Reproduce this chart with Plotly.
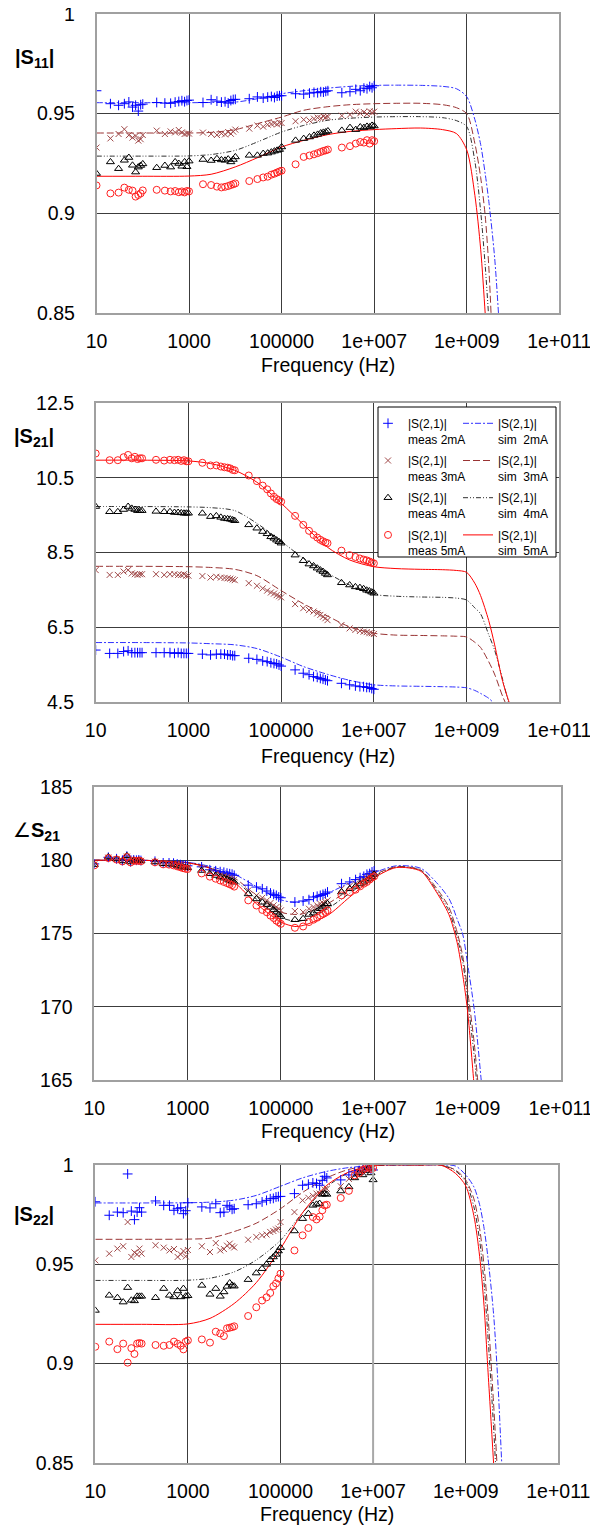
import plotly.graph_objects as go

# The page body has an 8px margin: the figure is sized so that it fills the
# 598x1528 window, and pixel positions below are given in window coordinates.
OFF = 8
W, H = 598 - OFF, 1528 - OFF
FONT = "Liberation Sans, Arial, sans-serif"

# ---------------- measured frequency sweep (Hz) ----------------
FREQ_MEAS = [10, 20, 30, 40, 50, 60, 70, 80, 90,
             100, 200, 300, 400, 500, 600, 700, 800, 900,
             1e3, 2e3, 3e3, 4e3, 5e3, 6e3, 7e3, 8e3, 9e3,
             1e4, 2e4, 3e4, 4e4, 5e4, 6e4, 7e4, 8e4, 9e4,
             1e5, 2e5, 3e5, 4e5, 5e5, 6e5, 7e5, 8e5, 9e5,
             1e6, 2e6, 3e6, 4e6, 5e6, 6e6, 7e6, 8e6, 9e6,
             1e7]

# ---------------- |S11| ----------------
S11_MEAS_2MA = [0.9615, 0.9550, 0.9542, 0.9550, 0.9559, 0.9533, 0.9542, 0.9513, 0.9545,
                0.9548, 0.9556, 0.9553, 0.9552, 0.9558, 0.9561, 0.9565, 0.9560, 0.9566,
                0.9568, 0.9556, 0.9570, 0.9563, 0.9558, 0.9560, 0.9553, 0.9566, 0.9571,
                0.9572, 0.9575, 0.9584, 0.9578, 0.9583, 0.9586, 0.9581, 0.9588, 0.9590,
                0.9590, 0.9600, 0.9598, 0.9603, 0.9607, 0.9605, 0.9610, 0.9608, 0.9612,
                0.9615, 0.9605, 0.9610, 0.9622, 0.9615, 0.9628, 0.9625, 0.9636, 0.9630,
                0.9640]
S11_MEAS_3MA = [0.9330, 0.9376, 0.9398, 0.9422, 0.9392, 0.9380, 0.9388, 0.9365, 0.9372,
                0.9393, 0.9415, 0.9398, 0.9411, 0.9406, 0.9418, 0.9406, 0.9398, 0.9401,
                0.9400, 0.9405, 0.9398, 0.9393, 0.9401, 0.9396, 0.9408, 0.9399, 0.9410,
                0.9420, 0.9425, 0.9440, 0.9435, 0.9445, 0.9448, 0.9452, 0.9446, 0.9455,
                0.9453, 0.9462, 0.9470, 0.9466, 0.9475, 0.9480, 0.9477, 0.9486, 0.9482,
                0.9485, 0.9490, 0.9495, 0.9510, 0.9502, 0.9508, 0.9498, 0.9512, 0.9505,
                0.9510]
S11_MEAS_4MA = [0.9200, 0.9258, 0.9224, 0.9266, 0.9280, 0.9241, 0.9207, 0.9232, 0.9240,
                0.9248, 0.9229, 0.9240, 0.9232, 0.9258, 0.9250, 0.9236, 0.9258, 0.9234,
                0.9262, 0.9270, 0.9265, 0.9274, 0.9268, 0.9266, 0.9272, 0.9258, 0.9270,
                0.9283, 0.9291, 0.9291, 0.9300, 0.9302, 0.9307, 0.9312, 0.9316, 0.9320,
                0.9333, 0.9366, 0.9375, 0.9383, 0.9391, 0.9396, 0.9403, 0.9406, 0.9408,
                0.9413, 0.9416, 0.9430, 0.9420, 0.9433, 0.9430, 0.9436, 0.9433, 0.9441,
                0.9438]
S11_MEAS_5MA = [0.9140, 0.9100, 0.9104, 0.9129, 0.9118, 0.9114, 0.9084, 0.9092, 0.9100,
                0.9115, 0.9118, 0.9114, 0.9110, 0.9112, 0.9106, 0.9110, 0.9105, 0.9112,
                0.9110, 0.9146, 0.9142, 0.9134, 0.9130, 0.9133, 0.9137, 0.9142, 0.9146,
                0.9150, 0.9162, 0.9172, 0.9180, 0.9184, 0.9194, 0.9199, 0.9205, 0.9210,
                0.9214, 0.9246, 0.9283, 0.9290, 0.9296, 0.9302, 0.9308, 0.9313, 0.9316,
                0.9320, 0.9330, 0.9337, 0.9350, 0.9358, 0.9355, 0.9367, 0.9350, 0.9367,
                0.9362]

S11_SIM_F = [10, 100, 1e3, 3e3, 1e4, 3e4, 1e5, 3e5, 1e6, 3e6, 1e7, 3e7, 1e8, 3e8,
             6e8, 1e9, 1.5e9, 2e9, 2.5e9, 3e9, 4e9, 5e9]
S11_SIM_2MA = [0.9555, 0.9555, 0.9555, 0.9556, 0.9558, 0.9575, 0.9600, 0.9615, 0.9628, 0.9637,
               0.9642, 0.9643, 0.9642, 0.9637, 0.9625, 0.9585, 0.9470, 0.9345, 0.9200, 0.9060,
               0.8780, 0.8450]
S11_SIM_3MA = [0.9403, 0.9403, 0.9403, 0.9406, 0.9420, 0.9450, 0.9483, 0.9517, 0.9535, 0.9545,
               0.9550, 0.9552, 0.9552, 0.9545, 0.9530, 0.9500, 0.9350, 0.9180, 0.8990, 0.8730,
               0.8100, 0.7700]
S11_SIM_4MA = [0.9287, 0.9287, 0.9288, 0.9295, 0.9316, 0.9358, 0.9408, 0.9441, 0.9467, 0.9477,
               0.9483, 0.9485, 0.9485, 0.9480, 0.9465, 0.9435, 0.9260, 0.9010, 0.8740, 0.8470,
               0.8000, 0.7600]
S11_SIM_5MA = [0.9186, 0.9186, 0.9187, 0.9196, 0.9233, 0.9279, 0.9333, 0.9366, 0.9395, 0.9411,
               0.9420, 0.9425, 0.9428, 0.9420, 0.9400, 0.9318, 0.9090, 0.8820, 0.8500, 0.8200,
               0.7600, 0.7200]

# ---------------- |S21| ----------------
S21_MEAS_2MA = [5.89, 5.80, 5.80, 5.85, 5.87, 5.82, 5.82, 5.82, 5.82,
                5.82, 5.82, 5.82, 5.82, 5.80, 5.82, 5.80, 5.80, 5.80,
                5.80, 5.78, 5.76, 5.78, 5.78, 5.78, 5.76, 5.76, 5.74,
                5.74, 5.67, 5.64, 5.60, 5.58, 5.55, 5.53, 5.52, 5.49,
                5.46, 5.36, 5.27, 5.23, 5.18, 5.16, 5.13, 5.11, 5.09,
                5.07, 5.00, 4.96, 4.93, 4.91, 4.91, 4.89, 4.89, 4.86,
                4.84]
S21_MEAS_3MA = [8.03, 7.90, 7.90, 7.99, 8.03, 7.94, 7.92, 7.90, 7.92,
                7.92, 7.92, 7.90, 7.92, 7.92, 7.90, 7.90, 7.92, 7.88,
                7.88, 7.87, 7.83, 7.85, 7.83, 7.82, 7.81, 7.80, 7.78,
                7.76, 7.68, 7.61, 7.54, 7.48, 7.43, 7.40, 7.36, 7.33,
                7.30, 7.12, 7.01, 6.96, 6.92, 6.87, 6.83, 6.78, 6.74,
                6.69, 6.56, 6.47, 6.43, 6.40, 6.38, 6.37, 6.34, 6.34,
                6.32]
S21_MEAS_4MA = [9.73, 9.59, 9.59, 9.65, 9.73, 9.68, 9.65, 9.62, 9.62,
                9.62, 9.60, 9.59, 9.59, 9.57, 9.57, 9.56, 9.55, 9.55,
                9.55, 9.55, 9.46, 9.48, 9.44, 9.41, 9.40, 9.39, 9.37,
                9.35, 9.24, 9.15, 9.06, 9.00, 8.92, 8.88, 8.83, 8.79,
                8.75, 8.43, 8.28, 8.19, 8.14, 8.08, 8.03, 7.99, 7.94,
                7.90, 7.69, 7.63, 7.58, 7.56, 7.53, 7.49, 7.47, 7.44,
                7.41]
S21_MEAS_5MA = [11.15, 10.97, 10.97, 11.05, 11.11, 11.02, 11.06, 11.00, 11.02,
                11.02, 10.98, 10.96, 10.98, 10.97, 10.98, 10.95, 10.97, 10.94,
                10.94, 10.90, 10.83, 10.83, 10.80, 10.78, 10.77, 10.75, 10.71,
                10.70, 10.56, 10.41, 10.29, 10.19, 10.08, 9.99, 9.93, 9.90,
                9.86, 9.48, 9.24, 9.08, 8.97, 8.90, 8.84, 8.80, 8.77,
                8.75, 8.55, 8.43, 8.38, 8.34, 8.31, 8.29, 8.26, 8.23,
                8.21]

S21_SIM_F = [10, 100, 1e3, 3e3, 1e4, 3e4, 1e5, 3e5, 1e6, 3e6, 1e7, 3e7, 1e8, 3e8,
             6e8, 1e9, 1.5e9, 2e9, 3e9, 4e9, 6e9, 8e9, 1e10]
S21_SIM_2MA = [6.09, 6.09, 6.08, 6.06, 6.03, 5.93, 5.70, 5.45, 5.24, 5.08, 4.96, 4.93, 4.92,
               4.91, 4.90, 4.88, 4.81, 4.73, 4.60, 4.45, 4.20, 4.00, 3.85]
S21_SIM_3MA = [8.13, 8.13, 8.12, 8.10, 8.05, 7.88, 7.48, 7.13, 6.80, 6.51, 6.34, 6.29, 6.28,
               6.27, 6.26, 6.24, 6.10, 5.96, 5.58, 5.25, 4.65, 4.30, 4.05]
S21_SIM_4MA = [9.73, 9.73, 9.72, 9.70, 9.62, 9.28, 8.80, 8.35, 7.95, 7.63, 7.38, 7.33, 7.31,
               7.30, 7.28, 7.23, 7.02, 6.86, 6.30, 5.90, 5.10, 4.50, 4.15]
S21_SIM_5MA = [10.97, 10.97, 10.95, 10.88, 10.70, 10.38, 9.82, 9.25, 8.64, 8.30, 8.12, 8.07,
               8.05, 8.04, 8.02, 7.97, 7.68, 7.35, 6.68, 6.05, 5.05, 4.55, 4.20]

# ---------------- angle S21 (deg) ----------------
A21_MEAS_2MA = [179.75, 180.20, 180.10, 179.98, 180.28, 179.90, 180.02, 180.00, 180.02,
                179.98, 179.93, 179.82, 179.82, 179.80, 179.74, 179.70, 179.66, 179.65,
                179.62, 179.55, 179.35, 179.28, 179.22, 179.18, 179.12, 179.08, 179.05,
                178.97, 178.30, 178.17, 178.05, 177.90, 177.76, 177.67, 177.60, 177.49,
                177.44, 177.15, 177.22, 177.31, 177.49, 177.54, 177.60, 177.67, 177.72,
                177.83, 178.40, 178.52, 178.68, 178.81, 178.90, 179.04, 179.09, 179.20,
                179.27]
A21_MEAS_3MA = [179.72, 180.18, 180.08, 179.96, 180.25, 179.90, 180.00, 179.97, 180.00,
                179.96, 179.90, 179.78, 179.76, 179.73, 179.68, 179.62, 179.58, 179.55,
                179.52, 179.40, 179.20, 179.08, 178.98, 178.92, 178.86, 178.80, 178.74,
                178.68, 177.94, 177.60, 177.44, 177.26, 177.08, 176.92, 176.80, 176.69,
                176.58, 176.53, 176.46, 176.69, 176.81, 176.92, 177.03, 177.08, 177.15,
                177.26, 178.06, 178.25, 178.40, 178.55, 178.66, 178.78, 178.88, 178.98,
                179.13]
A21_MEAS_4MA = [179.70, 180.22, 180.08, 179.95, 180.30, 179.88, 180.00, 179.98, 180.00,
                179.95, 179.88, 179.76, 179.74, 179.70, 179.64, 179.58, 179.53, 179.50,
                179.48, 179.30, 179.08, 178.96, 178.86, 178.78, 178.70, 178.62, 178.56,
                178.50, 177.70, 177.36, 177.13, 176.97, 176.79, 176.61, 176.45, 176.29,
                176.16, 175.94, 176.01, 176.30, 176.39, 176.53, 176.69, 176.80, 176.92,
                177.03, 177.83, 178.05, 178.22, 178.38, 178.50, 178.63, 178.75, 178.86,
                179.04]
A21_MEAS_5MA = [179.65, 180.15, 180.05, 179.92, 180.22, 179.85, 179.98, 179.95, 179.98,
                179.93, 179.86, 179.72, 179.70, 179.65, 179.58, 179.52, 179.46, 179.42,
                179.40, 179.10, 178.88, 178.74, 178.62, 178.52, 178.44, 178.36, 178.30,
                178.20, 177.26, 176.91, 176.61, 176.45, 176.22, 176.06, 175.88, 175.77,
                175.66, 175.39, 175.48, 175.78, 175.94, 176.08, 176.24, 176.35, 176.47,
                176.58, 177.60, 177.83, 177.99, 178.22, 178.40, 178.52, 178.68, 178.81,
                178.90]

A21_SIM_F = [10, 100, 1e3, 3e3, 1e4, 3e4, 1e5, 2e5, 3e5, 1e6, 3e6, 1e7, 3e7, 1e8,
             2e8, 4e8, 6e8, 8e8, 1e9, 1.4e9, 2e9]
A21_SIM_2MA = [180.0, 180.0, 179.86, 179.58, 179.05, 178.20, 177.30, 177.12, 177.18, 177.75,
               178.45, 179.15, 179.62, 179.45, 178.60, 177.40, 176.00, 174.90, 173.00, 169.80,
               164.80]
A21_SIM_3MA = [180.0, 180.0, 179.84, 179.50, 178.80, 177.60, 176.46, 176.30, 176.35, 177.03,
               178.00, 179.00, 179.56, 179.33, 178.25, 176.80, 175.10, 173.40, 171.20, 167.50,
               162.00]
A21_SIM_4MA = [180.0, 180.0, 179.83, 179.48, 178.65, 177.35, 176.10, 175.84, 175.90, 176.69,
               177.75, 178.90, 179.53, 179.30, 178.12, 176.55, 174.75, 173.00, 170.60, 166.60,
               161.00]
A21_SIM_5MA = [180.0, 180.0, 179.82, 179.45, 178.50, 177.03, 175.78, 175.48, 175.55, 176.23,
               177.49, 178.80, 179.50, 179.25, 178.00, 176.30, 174.40, 172.10, 169.80, 164.50,
               158.00]

# ---------------- |S22| ----------------
S22_MEAS_2MA = [0.9815, 0.9747, 0.9763, 0.9760, 0.9955, 0.9768, 0.9725, 0.9763, 0.9785,
                0.9763, 0.9819, 0.9797, 0.9797, 0.9772, 0.9780, 0.9785, 0.9755, 0.9770,
                0.9810, 0.9789, 0.9784, 0.9805, 0.9760, 0.9763, 0.9797, 0.9789, 0.9777,
                0.9780, 0.9800, 0.9805, 0.9814, 0.9822, 0.9830, 0.9832, 0.9839, 0.9841,
                0.9842, 0.9856, 0.9898, 0.9903, 0.9910, 0.9907, 0.9898, 0.9923, 0.9943,
                0.9935, 0.9925, 0.9950, 0.9965, 0.9972, 0.9975, 0.9985, 0.9990, 0.9980,
                0.9975]
S22_MEAS_3MA = [0.9520, 0.9554, 0.9579, 0.9591, 0.9713, 0.9537, 0.9560, 0.9550, 0.9579,
                0.9554, 0.9596, 0.9584, 0.9570, 0.9577, 0.9537, 0.9550, 0.9567, 0.9540,
                0.9572, 0.9591, 0.9562, 0.9607, 0.9570, 0.9577, 0.9594, 0.9604, 0.9591,
                0.9585, 0.9624, 0.9638, 0.9646, 0.9650, 0.9663, 0.9668, 0.9675, 0.9680,
                0.9713, 0.9763, 0.9822, 0.9835, 0.9845, 0.9856, 0.9856, 0.9860, 0.9877,
                0.9880, 0.9893, 0.9930, 0.9950, 0.9960, 0.9975, 0.9985, 0.9980, 0.9990,
                0.9985]
S22_MEAS_4MA = [0.9268, 0.9344, 0.9332, 0.9310, 0.9383, 0.9319, 0.9316, 0.9339, 0.9339,
                0.9339, 0.9332, 0.9378, 0.9344, 0.9336, 0.9366, 0.9336, 0.9378, 0.9340,
                0.9342, 0.9394, 0.9349, 0.9378, 0.9339, 0.9361, 0.9389, 0.9406, 0.9394,
                0.9390, 0.9423, 0.9456, 0.9478, 0.9500, 0.9523, 0.9537, 0.9550, 0.9567,
                0.9584, 0.9668, 0.9730, 0.9755, 0.9797, 0.9802, 0.9806, 0.9852, 0.9855,
                0.9852, 0.9869, 0.9890, 0.9935, 0.9960, 0.9950, 0.9972, 0.9985, 0.9960,
                0.9925]
S22_MEAS_5MA = [0.9085, 0.9111, 0.9073, 0.9101, 0.9005, 0.9078, 0.9049, 0.9101, 0.9104,
                0.9101, 0.9094, 0.9090, 0.9094, 0.9111, 0.9100, 0.9090, 0.9072, 0.9111,
                0.9117, 0.9122, 0.9106, 0.9161, 0.9152, 0.9139, 0.9178, 0.9181, 0.9184,
                0.9188, 0.9240, 0.9284, 0.9318, 0.9334, 0.9356, 0.9390, 0.9404, 0.9429,
                0.9453, 0.9570, 0.9646, 0.9683, 0.9738, 0.9726, 0.9740, 0.9772, 0.9797,
                0.9800, 0.9834, 0.9870, 0.9948, 0.9960, 0.9975, 0.9985, 0.9990, 0.9980,
                0.9985]

S22_SIM_F = [10, 100, 1e3, 3e3, 1e4, 3e4, 1e5, 3e5, 1e6, 3e6, 1e7, 1e8, 3e8, 6e8,
             1e9, 1.5e9, 2e9, 2.5e9, 3e9, 4e9, 5e9, 6e9, 8e9]
S22_SIM_2MA = [0.9809, 0.9809, 0.9810, 0.9813, 0.9823, 0.9847, 0.9893, 0.9935, 0.9968, 0.9987,
               0.9997, 1.0000, 1.0000, 0.9995, 0.9950, 0.9890, 0.9800, 0.9680, 0.9540, 0.9250,
               0.8890, 0.8500, 0.7900]
S22_SIM_3MA = [0.9626, 0.9626, 0.9627, 0.9632, 0.9665, 0.9707, 0.9780, 0.9862, 0.9935, 0.9978,
               0.9997, 1.0000, 0.9999, 0.9975, 0.9925, 0.9830, 0.9680, 0.9490, 0.9260, 0.8800,
               0.8400, 0.8100, 0.7600]
S22_SIM_4MA = [0.9419, 0.9419, 0.9420, 0.9430, 0.9462, 0.9522, 0.9621, 0.9760, 0.9890, 0.9962,
               0.9996, 1.0000, 0.9999, 0.9970, 0.9915, 0.9790, 0.9620, 0.9400, 0.9150, 0.8680,
               0.8250, 0.7900, 0.7400]
S22_SIM_5MA = [0.9198, 0.9198, 0.9200, 0.9228, 0.9303, 0.9408, 0.9579, 0.9760, 0.9898, 0.9965,
               0.9997, 1.0000, 0.9998, 0.9958, 0.9895, 0.9745, 0.9540, 0.9287, 0.8980, 0.8500,
               0.8100, 0.7700, 0.7200]

CURRENTS = ["2mA", "3mA", "4mA", "5mA"]
X_TICKS = [10, 1e3, 1e5, 1e7, 1e9, 1e11]
X_TICKTEXT = ["10", "1000", "100000", "1e+007", "1e+009", "1e+011"]

# ---------------- styling ----------------
MEAS_STYLE = {
    "2mA": dict(symbol="cross-thin", size=7, color="#0000FF"),
    "3mA": dict(symbol="x-thin", size=6, color="#A04848"),
    "4mA": dict(symbol="triangle-up-open", size=7, color="#000000"),
    "5mA": dict(symbol="circle-open", size=7, color="#FF2020"),
}
SIM_STYLE = {
    "2mA": dict(color="#3030FF", dash="6px,2px,2px,2px"),
    "3mA": dict(color="#993333", dash="7px,3px"),
    "4mA": dict(color="#303030", dash="5px,2px,1px,2px,1px,2px"),
    "5mA": dict(color="#FF0000", dash="solid"),
}


def px_x(px):
    return (px - OFF) / W


def px_y(py):
    return 1 - (py - OFF) / H


PANELS = [
    dict(key="1", box=(96.5, 14, 559.3, 313), yr=[0.85, 1.0],
         yt=[0.85, 0.9, 0.95, 1.0], ytt=["0.85", "0.9", "0.95", "1"],
         meas=[S11_MEAS_2MA, S11_MEAS_3MA, S11_MEAS_4MA, S11_MEAS_5MA],
         simf=S11_SIM_F, sim=[S11_SIM_2MA, S11_SIM_3MA, S11_SIM_4MA, S11_SIM_5MA],
         label="<b>|S<sub>11</sub>|</b>", lpos=(34, 58), tpos=365),
    dict(key="2", box=(95.7, 403, 559.3, 702), yr=[4.5, 12.5],
         yt=[4.5, 6.5, 8.5, 10.5, 12.5], ytt=["4.5", "6.5", "8.5", "10.5", "12.5"],
         meas=[S21_MEAS_2MA, S21_MEAS_3MA, S21_MEAS_4MA, S21_MEAS_5MA],
         simf=S21_SIM_F, sim=[S21_SIM_2MA, S21_SIM_3MA, S21_SIM_4MA, S21_SIM_5MA],
         label="<b>|S<sub>21</sub>|</b>", lpos=(34, 437), tpos=756),
    dict(key="3", box=(94.3, 787, 560.7, 1080), yr=[165, 185],
         yt=[165, 170, 175, 180, 185], ytt=["165", "170", "175", "180", "185"],
         meas=[A21_MEAS_2MA, A21_MEAS_3MA, A21_MEAS_4MA, A21_MEAS_5MA],
         simf=A21_SIM_F, sim=[A21_SIM_2MA, A21_SIM_3MA, A21_SIM_4MA, A21_SIM_5MA],
         label="\u2220<b>S<sub>21</sub></b>", lpos=(36, 831), tpos=1131),
    dict(key="4", box=(95.3, 1165, 558.3, 1463), yr=[0.85, 1.0],
         yt=[0.85, 0.9, 0.95, 1.0], ytt=["0.85", "0.9", "0.95", "1"],
         meas=[S22_MEAS_2MA, S22_MEAS_3MA, S22_MEAS_4MA, S22_MEAS_5MA],
         simf=S22_SIM_F, sim=[S22_SIM_2MA, S22_SIM_3MA, S22_SIM_4MA, S22_SIM_5MA],
         label="<b>|S<sub>22</sub>|</b>", lpos=(34, 1215), tpos=1514),
]

fig = go.Figure()
layout = dict(width=W, height=H, autosize=False, margin=dict(l=0, r=0, t=0, b=0, pad=0),
              paper_bgcolor="white", plot_bgcolor="white",
              font=dict(family=FONT, color="#000000"), showlegend=True)
annotations = []
shapes = []

for p in PANELS:
    k = p["key"]
    xa, ya = "x" + ("" if k == "1" else k), "y" + ("" if k == "1" else k)
    x0, y0, x1, y1 = p["box"]
    leg = (k == "2")
    # simulated curves
    for i, cur in enumerate(CURRENTS):
        st = SIM_STYLE[cur]
        fig.add_trace(go.Scatter(
            x=p["simf"], y=p["sim"][i], mode="lines", xaxis=xa, yaxis=ya,
            line=dict(color=st["color"], width=1, dash=st["dash"], shape="spline", smoothing=0.8),
            name="|S(2,1)|<br>sim  " + cur, showlegend=leg, legend="legend2",
            legendgroup="s" + cur, hoverinfo="skip"))
    # measured points
    for i, cur in enumerate(CURRENTS):
        st = MEAS_STYLE[cur]
        fig.add_trace(go.Scatter(
            x=FREQ_MEAS, y=p["meas"][i], mode="markers", xaxis=xa, yaxis=ya,
            marker=dict(symbol=st["symbol"], size=st["size"], color=st["color"],
                        line=dict(color=st["color"], width=1)),
            name="|S(2,1)|<br>meas " + cur, showlegend=leg, legend="legend",
            legendgroup="m" + cur, hoverinfo="skip"))

    axis_common = dict(showgrid=True, gridcolor="#3c3c3c", gridwidth=1,
                       showline=True, linecolor="#a0a0a0", linewidth=1.5, mirror=True,
                       ticks="", zeroline=False, automargin=False, ticklabeloverflow="allow",
                       tickfont=dict(size=19.5, family=FONT))
    layout["xaxis" + ("" if k == "1" else k)] = dict(
        type="log", range=[1, 11], tickvals=X_TICKS, ticktext=X_TICKTEXT,
        domain=[px_x(x0), px_x(x1)], anchor=ya, ticklabelstandoff=10, **axis_common)
    layout["yaxis" + ("" if k == "1" else k)] = dict(
        range=p["yr"], tickvals=p["yt"], ticktext=p["ytt"],
        domain=[px_y(y1), px_y(y0)], anchor=xa, ticklabelstandoff=16, **axis_common)

    annotations.append(dict(text=p["label"], x=px_x(p["lpos"][0]), y=px_y(p["lpos"][1]),
                            xref="paper", yref="paper", showarrow=False,
                            xanchor="center", yanchor="middle",
                            font=dict(size=20, family=FONT)))
    annotations.append(dict(text="Frequency (Hz)", x=px_x((x0 + x1) / 2), y=px_y(p["tpos"]),
                            xref="paper", yref="paper", showarrow=False,
                            xanchor="center", yanchor="middle",
                            font=dict(size=19.5, family=FONT)))

# grey vertical axis crossing line in |S22| panel
shapes.append(dict(type="line", xref="x4", yref="y4 domain", x0=1e7, x1=1e7, y0=0, y1=1,
                   line=dict(color="#a8a8a8", width=2), layer="above"))
# legend frame in |S21| panel
shapes.append(dict(type="rect", xref="paper", yref="paper",
                   x0=px_x(378), x1=px_x(556), y0=px_y(557), y1=px_y(407),
                   fillcolor="white", line=dict(color="#000000", width=1), layer="above"))

legend_common = dict(bgcolor="rgba(0,0,0,0)", borderwidth=0, font=dict(size=12, family=FONT),
                     valign="top", traceorder="grouped", tracegroupgap=3,
                     xanchor="left", yanchor="top")
layout["legend"] = dict(x=px_x(368), y=px_y(409), **legend_common)
layout["legend2"] = dict(x=px_x(458), y=px_y(409), **legend_common)
layout["annotations"] = annotations
layout["shapes"] = shapes

fig.update_layout(**layout)
fig.write_html("out.html")
